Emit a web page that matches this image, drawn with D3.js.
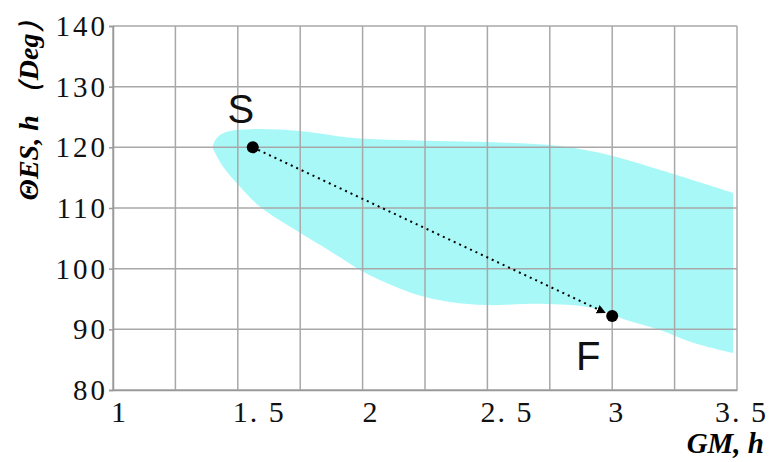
<!DOCTYPE html>
<html>
<head>
<meta charset="utf-8">
<script src="https://cdn.jsdelivr.net/npm/d3@7"></script>
<style>
  body { margin: 0; background: #fff; }
  svg { display: block; }
</style>
</head>
<body>
<svg width="776" height="462"></svg>
<script>
// axis ticks
const xTicks = [1, 1.5, 2, 2.5, 3, 3.5];
const xGrid = [1, 1.25, 1.5, 1.75, 2, 2.25, 2.5, 2.75, 3, 3.25, 3.5];
const yTicks = [80, 90, 100, 110, 120, 130, 140];

// shaded region outline (top edge right->left, then bottom edge left->right)
const regionX = [3.484, 3.19, 2.99, 2.79, 2.55, 2.35, 2.15, 1.95, 1.75, 1.55, 1.45, 1.415, 1.40,
                 1.409, 1.441, 1.509, 1.589, 1.749, 1.881, 2.002, 2.098, 2.218, 2.35, 2.498, 2.711, 2.923, 3.059, 3.192, 3.324, 3.484];
const regionY = [112.5, 116.3, 118.7, 120.2, 120.8, 121.0, 121.2, 121.6, 122.7, 123.0, 122.5, 121.5, 120.0,
                 119.1, 116.8, 113.5, 110.2, 105.9, 102.6, 99.5, 97.6, 95.7, 94.5, 94.0, 94.2, 93.5, 91.5, 89.9, 87.8, 86.1];

// start and finish points
const pointNames = ["S", "F"];
const pointX = [1.56, 3.0];
const pointY = [120, 92.2];

const svg = d3.select("svg");

// prettier-ignore
const x = d3.scaleLinear()
    .domain([1, 3.5])
    .range([113, 737]);

// prettier-ignore
const y = d3.scaleLinear()
    .domain([80, 140])
    .range([390, 26]);

// region
const region = regionX.map((d, i) => [d, regionY[i]]);
// prettier-ignore
const regionLine = d3.line()
    .x(d => x(d[0]))
    .y(d => y(d[1]))
    .curve(d3.curveCatmullRom.alpha(0.5));

svg.append("path")
  .attr("d", regionLine(region) + "Z")
  .attr("fill", "#a9f8f8");

// grid
const grid = svg.append("g").attr("stroke", "#a8a8a8").attr("stroke-width", 1.5);
grid.selectAll("line.v")
  .data(xGrid)
  .enter()
  .append("line")
  .attr("x1", d => x(d)).attr("x2", d => x(d))
  .attr("y1", y(140)).attr("y2", y(80));
grid.selectAll("line.h")
  .data(yTicks)
  .enter()
  .append("line")
  .attr("x1", x(1)).attr("x2", x(3.5))
  .attr("y1", d => y(d)).attr("y2", d => y(d));

// axes
const fmt = d => (d % 1 ? d.toFixed(1).replace(".", ". ") : String(d));
const xOffset = { 1: 6, 1.5: 21, 2: 8, 2.5: 19, 3: 4, 3.5: 4 };

// prettier-ignore
const xAxis = svg.append("g")
    .attr("transform", `translate(0,${y(80)})`)
    .call(d3.axisBottom(x).tickValues(xTicks).tickSize(0).tickFormat(fmt));
xAxis.select(".domain").attr("stroke", "#999").attr("stroke-width", 1.5);
xAxis.selectAll("text")
  .attr("y", 32)
  .attr("dy", 0)
  .attr("dx", d => xOffset[d])
  .style("font-family", "'Liberation Serif', serif")
  .style("font-size", "30px")
  .style("letter-spacing", "2px")
  .attr("fill", "#111");

// prettier-ignore
const yAxis = svg.append("g")
    .attr("transform", `translate(${x(1)},0)`)
    .call(d3.axisLeft(y).tickValues(yTicks).tickSize(4).tickPadding(4));
yAxis.select(".domain").attr("stroke", "#999").attr("stroke-width", 1.5);
yAxis.selectAll(".tick line").attr("stroke", "#999").attr("stroke-width", 1.5);
yAxis.selectAll("text")
  .attr("dx", 3)
  .attr("dy", "0.33em")
  .style("font-family", "'Liberation Serif', serif")
  .style("font-size", "29px")
  .style("letter-spacing", "3px")
  .attr("fill", "#111");

// axis titles
svg.append("text")
  .attr("transform", "translate(38,103) rotate(-90)")
  .attr("text-anchor", "middle")
  .style("font-family", "'Liberation Serif', serif")
  .style("font-size", "28px")
  .style("font-weight", "bold")
  .style("font-style", "italic")
  .text("ΘES, h （Deg）");

svg.append("text")
  .attr("x", 764)
  .attr("y", 453)
  .attr("text-anchor", "end")
  .style("font-family", "'Liberation Serif', serif")
  .style("font-size", "29px")
  .style("font-weight", "bold")
  .style("font-style", "italic")
  .text("GM, h");

// arrow S -> F
svg.append("defs").append("marker")
  .attr("id", "arr")
  .attr("viewBox", "0 0 10 10")
  .attr("refX", 10).attr("refY", 5)
  .attr("markerWidth", 9).attr("markerHeight", 9)
  .attr("markerUnits", "userSpaceOnUse")
  .attr("orient", "auto")
  .append("path")
  .attr("d", "M0,0L10,5L0,10Z")
  .attr("fill", "#000");

const sx = x(pointX[0]), sy = y(pointY[0]);
const fx = x(pointX[1]), fy = y(pointY[1]);
const len = Math.hypot(fx - sx, fy - sy);
const ex = fx - (fx - sx) / len * 7, ey = fy - (fy - sy) / len * 7;

svg.append("line")
  .attr("x1", sx).attr("y1", sy)
  .attr("x2", ex).attr("y2", ey)
  .attr("stroke", "#000")
  .attr("stroke-width", 2)
  .attr("stroke-dasharray", "2,4")
  .attr("marker-end", "url(#arr)");

// points and labels
const labelDx = { S: -12, F: -24 };
const labelDy = { S: -24, F: 54 };

svg.selectAll("circle.pt")
  .data(pointNames)
  .enter()
  .append("circle")
  .attr("cx", (d, i) => x(pointX[i]))
  .attr("cy", (d, i) => y(pointY[i]))
  .attr("r", 6)
  .attr("fill", "#000");

svg.selectAll("text.pt")
  .data(pointNames)
  .enter()
  .append("text")
  .attr("x", (d, i) => x(pointX[i]) + labelDx[d])
  .attr("y", (d, i) => y(pointY[i]) + labelDy[d])
  .attr("text-anchor", "middle")
  .style("font-family", "'Liberation Sans', Arial, sans-serif")
  .style("font-size", "40px")
  .attr("fill", "#111")
  .text(d => d);
</script>
</body>
</html>
